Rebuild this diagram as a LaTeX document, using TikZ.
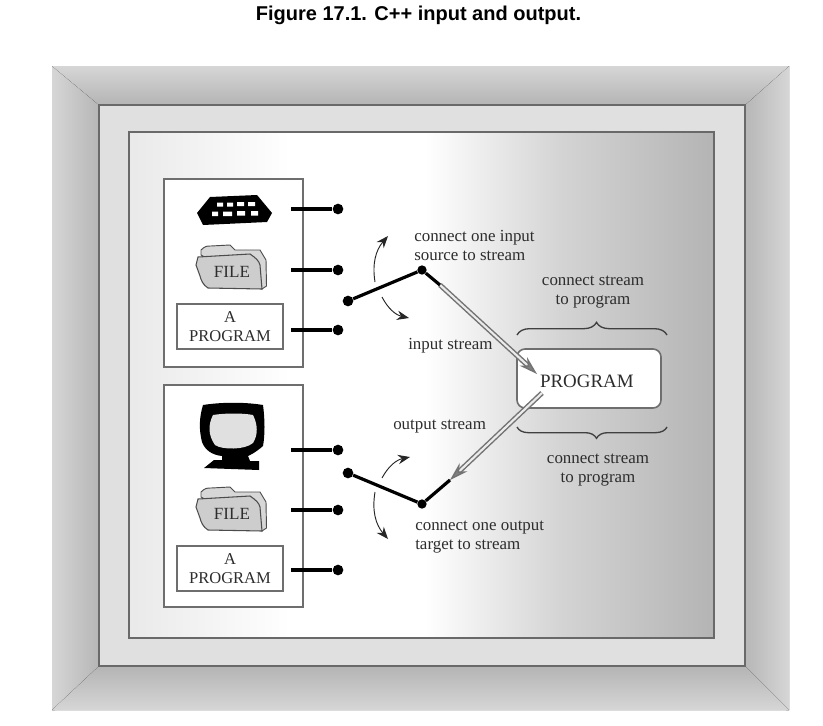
\documentclass[tikz,border=0pt]{standalone}
\usepackage{fontspec}
\setmainfont{Liberation Serif}
\newfontfamily\titlefont{Liberation Sans}
\usetikzlibrary{arrows.meta, decorations.pathreplacing}
\definecolor{framegray}{RGB}{105, 105, 105}
\definecolor{boxgray}{RGB}{110, 110, 110}
\definecolor{facegray}{RGB}{224, 224, 224}
\definecolor{bandlight}{RGB}{214, 214, 214}
\definecolor{banddark}{RGB}{180, 180, 180}
\definecolor{panelmid}{RGB}{212, 212, 212}
\definecolor{inktext}{RGB}{45, 45, 45}
\definecolor{foldergray}{RGB}{205, 205, 205}
\tikzset{
  srcbox/.style={draw=boxgray, line width=1.2pt, fill=white},
  progbox/.style={draw=boxgray, line width=1.2pt, fill=white, text=inktext, align=center, font=\fontsize{12.4}{14}\selectfont, minimum width=79.5pt, minimum height=33.75pt, inner sep=0pt},
  label/.style={text=inktext, font=\fontsize{12.7}{14.25}\selectfont, inner sep=0pt},
  termdot/.style={circle, fill=black, minimum size=8pt, inner sep=0pt},
  termline/.style={line width=2.4pt, black},
  streamline/.style={draw=black!55, line width=1.1pt, double=black!8, double distance=1.6pt, -{Stealth[length=14pt, width=8.5pt, fill=black!50]}},
  swingarrow/.style={-{Stealth[length=9pt, width=7pt]}, line width=0.7pt, black!85},
  curlybrace/.style={decorate, line width=1pt, black!75},
  folder/.pic={
    \draw[draw=black!70, line width=0.7pt, fill=foldergray!80!white] (-31,-12) -- (-31,-17) .. controls (-27,-21) and (-25,-21) .. (-21,-21) -- (-2,-22) -- (3,-17) -- (28,-17) -- (34,-7) -- (34.5,19) -- (30,22) -- cycle;
    \draw[draw=black!70, line width=0.8pt, fill=foldergray] (-34,-10) -- (18,-13) .. controls (24,-9) and (27,-6) .. (28,-2) -- (30,22) -- (-24,21) .. controls (-29,18) and (-31,13) .. (-32,9) -- (-36,-2) -- cycle;
    \node[text=inktext, font=\fontsize{12.8}{14}\selectfont, inner sep=0pt] (-label) at (0,5) {FILE};
  }
}

\begin{document}
\begin{tikzpicture}[x=0.75pt, y=-0.75pt]
  \useasboundingbox (0,0) rectangle (823,725);
  \fill[white] (0,0) rectangle (823,725);

  \node[font=\titlefont\bfseries\fontsize{15}{17}\selectfont, inner sep=0pt] (figtitle) at (418.5,15) {Figure 17.1. C++ input and output.};

  % Outer bands
  \fill[left color=bandlight, right color=banddark] (52,66) -- (55,66) -- (102,105) -- (99,105) -- (99,666) -- (102,666) -- (55,710) -- (52,710) -- cycle;
  \fill[left color=banddark, right color=bandlight] (789,66) -- (786,66) -- (742,105) -- (745,105) -- (745,666) -- (742,666) -- (786,710) -- (789,710) -- cycle;
  \fill[top color=bandlight, bottom color=banddark] (52,66) -- (789,66) -- (745,105) -- (99,105) -- cycle;
  \fill[top color=banddark, bottom color=bandlight] (52,710) -- (789,710) -- (745,666) -- (99,666) -- cycle;

  % Frame and panel
  \draw[draw=framegray, line width=1.6pt, fill=facegray] (99,105) rectangle (745,666);
  \fill[left color=facegray!70!white, right color=white] (129,132) rectangle (290,638);
  \fill[white] (289,132) rectangle (426,638);
  \fill[left color=white, right color=panelmid] (425,132) rectangle (560,638);
  \fill[left color=panelmid, right color=banddark] (559,132) rectangle (714,638);
  \draw[draw=framegray, line width=1.3pt] (129,132) rectangle (714,638);

  % Input side
  \node[srcbox, minimum width=104.25pt, minimum height=141pt] (inputbox) at (233.5,273) {};
  \fill[black] (210,197) -- (257,195) -- (272,213) -- (267,222) -- (203,225) -- (197,213) -- cycle;
  \fill[white] (217,202.5) rectangle (223,206.5) (227,202.5) rectangle (233,206.5) (237,202) rectangle (244,206) (248,202) rectangle (255,206);
  \fill[white] (212,211.5) rectangle (218,216) (223,211.5) rectangle (232,216) (237,211) rectangle (245,215.5) (251,211) rectangle (258,215.5);
  \pic (file1) at (232,267) {folder};
  \node[progbox] (prog1) at (230,326.5) {A\\PROGRAM};

  \coordinate (src1) at (291,209);
  \coordinate (src2) at (291,270);
  \coordinate (src3) at (291,330);
  \node[termdot] (dot1) at (338,209) {};
  \node[termdot] (dot2) at (338,270) {};
  \node[termdot] (dot3) at (338,330) {};
  \draw[termline] (src1) -- (dot1);
  \draw[termline] (src2) -- (dot2);
  \draw[termline] (src3) -- (dot3);

  % Output side
  \node[srcbox, minimum width=104.25pt, minimum height=166.5pt] (outputbox) at (233.5,496) {};
  \fill[black] (203,405) .. controls (222,402) and (245,402) .. (263,405) .. controls (265,420) and (265,435) .. (263,446) .. controls (255,453) and (250,455) .. (248,456) -- (250,461) -- (259,461) -- (259,470) -- (204,468) -- (214,460) -- (222,460) -- (222,456) .. controls (212,455) and (205,450) .. (202,442) .. controls (199,430) and (199,418) .. (203,405) -- cycle;
  \fill[facegray] (213,415) .. controls (225,413) and (243,413) .. (253,415) .. controls (258,425) and (258,435) .. (253,443) .. controls (245,450) and (222,450) .. (215,445) .. controls (208,435) and (208,425) .. (213,415) -- cycle;
  \pic (file2) at (232,509) {folder};
  \node[progbox] (prog2) at (230,568.5) {A\\PROGRAM};

  \coordinate (tgt1) at (291,450);
  \coordinate (tgt2) at (291,510);
  \coordinate (tgt3) at (291,570);
  \node[termdot] (dot4) at (338,450) {};
  \node[termdot] (dot5) at (338,510) {};
  \node[termdot] (dot6) at (338,570) {};
  \draw[termline] (tgt1) -- (dot4);
  \draw[termline] (tgt2) -- (dot5);
  \draw[termline] (tgt3) -- (dot6);

  % Program
  \node[draw=boxgray, line width=1.2pt, minimum width=108pt, minimum height=44.25pt, fill=white, rounded corners=6pt, inner sep=0pt, text=inktext, font=\fontsize{14.2}{16}\selectfont, text width=73.5pt, text height=14pt, text depth=0pt, align=left] (program) at (589,378.5) {PROGRAM};

  % Input switch
  \node[termdot] (inswitch) at (348,301) {};
  \node[termdot, minimum size=7pt] (inpivot) at (422,270) {};
  \coordinate (injoint) at (440,285);
  \coordinate (intip) at (537,374);
  \draw[streamline] (injoint) -- (intip);
  \draw[termline, line join=round] (inswitch) -- (inpivot) -- (injoint);

  % Output switch
  \node[termdot] (outswitch) at (348,473) {};
  \node[termdot, minimum size=7pt] (outpivot) at (422,504) {};
  \coordinate (outjoint) at (450,480);
  \coordinate (outstart) at (542,393);
  \draw[streamline] (outstart) -- (outjoint);
  \draw[termline, line join=round] (outswitch) -- (outpivot) -- (outjoint);

  % Swing arrows
  \coordinate (inup1) at (375,282);
  \coordinate (inup2) at (388,236);
  \coordinate (indown1) at (382,297);
  \coordinate (indown2) at (409,318);
  \coordinate (outup1) at (382,478);
  \coordinate (outup2) at (410,457);
  \coordinate (outdown1) at (375,492);
  \coordinate (outdown2) at (388,539);
  \draw[swingarrow] (inup1) to[bend left=25] (inup2);
  \draw[swingarrow] (indown1) to[bend right=25] (indown2);
  \draw[swingarrow] (outup1) to[bend left=25] (outup2);
  \draw[swingarrow] (outdown1) to[bend right=25] (outdown2);

  % Braces
  \coordinate (bracetl) at (517,335);
  \coordinate (bracetr) at (667,335);
  \coordinate (bracebl) at (517,427);
  \coordinate (bracebr) at (667,427);
  \draw[curlybrace, decoration={brace, amplitude=9.5pt, aspect=0.53}] (bracetl) -- (bracetr);
  \draw[curlybrace, decoration={brace, amplitude=8.5pt, aspect=0.47}] (bracebr) -- (bracebl);

  % Labels
  \node[label, align=left, anchor=west] (lblsource) at (414,245.5) {connect one input\\source to stream};
  \node[label, align=center] (lblconntop) at (593,292.5) {connect stream\\to program};
  \node[label, anchor=west] (lblinput) at (408,346) {input stream};
  \node[label, anchor=west] (lbloutput) at (393,427) {output stream};
  \node[label, align=center] (lblconnbot) at (598,470.5) {connect stream\\to program};
  \node[label, align=left, anchor=west] (lbltarget) at (415,537.5) {connect one output\\target to stream};
\end{tikzpicture}
\end{document}
